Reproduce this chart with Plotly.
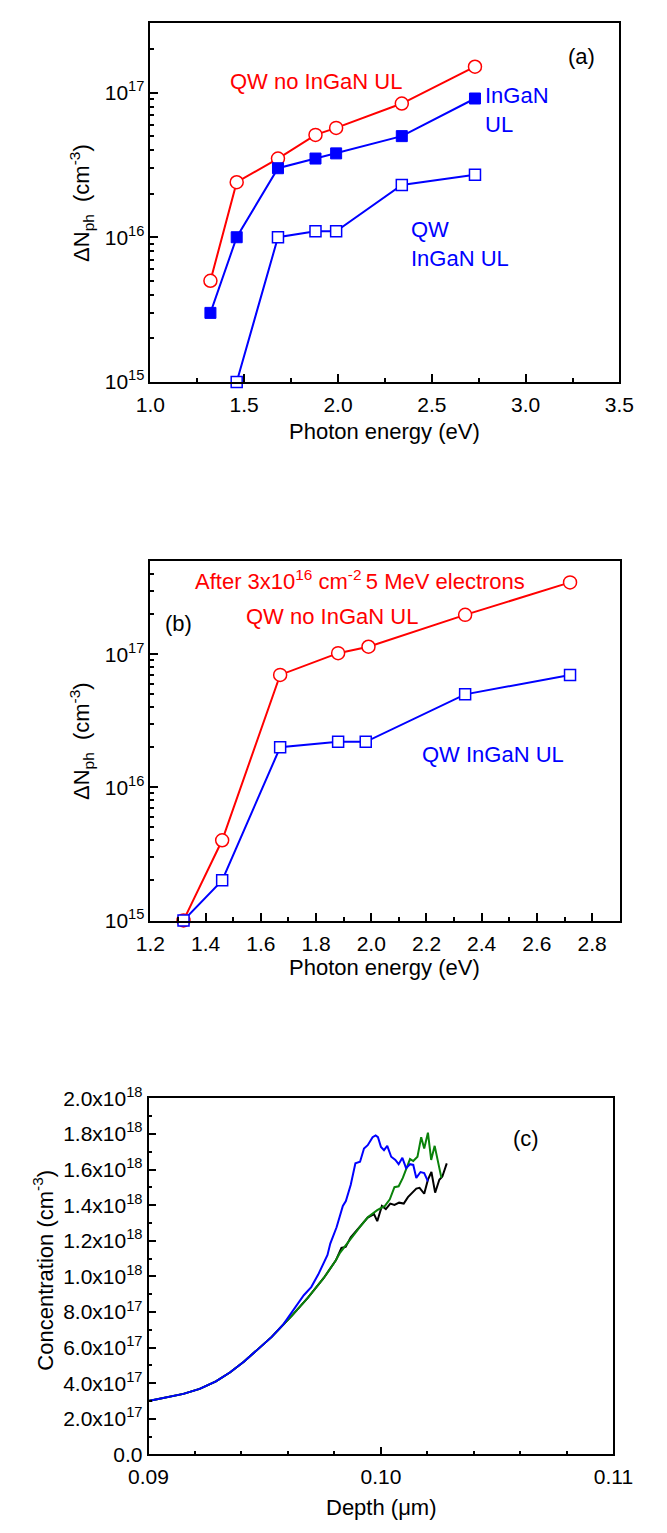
import plotly.graph_objects as go

# ---------------- data: panel (a) ----------------
energy_a = [1.32, 1.46, 1.68, 1.88, 1.99, 2.34, 2.73]
qw_no_ul_a = [5.0e15, 2.4e16, 3.5e16, 5.1e16, 5.7e16, 8.4e16, 1.51e17]
ingan_ul_a = [3.0e15, 1.0e16, 3.0e16, 3.5e16, 3.8e16, 5.0e16, 9.1e16]
energy_a_qw = [1.46, 1.68, 1.88, 1.99, 2.34, 2.73]
qw_ingan_ul_a = [1.0e15, 1.0e16, 1.1e16, 1.1e16, 2.3e16, 2.7e16]

# ---------------- data: panel (b) ----------------
energy_b = [1.32, 1.46, 1.67, 1.88, 1.99, 2.34, 2.72]
qw_no_ul_b = [1.0e15, 4.0e15, 7.0e16, 1.02e17, 1.14e17, 1.98e17, 3.47e17]
energy_b_qw = [1.32, 1.46, 1.67, 1.88, 1.98, 2.34, 2.72]
qw_ingan_ul_b = [1.0e15, 2.0e15, 2.0e16, 2.2e16, 2.2e16, 5.0e16, 7.0e16]

# ---------------- data: panel (c) ----------------
depth_blue = [0.0900, 0.0907, 0.0915, 0.0922, 0.0929, 0.0935, 0.0941, 0.0947, 0.0953,
              0.0958, 0.0963, 0.09668, 0.0970, 0.0973, 0.0977, 0.09782, 0.09809, 0.09836,
              0.09849, 0.0987, 0.0989, 0.0991, 0.09927, 0.09943, 0.09964, 0.09977, 0.09987,
              0.1000, 0.10013, 0.10027, 0.10044, 0.10062, 0.10076, 0.10092, 0.10108,
              0.10125, 0.10139, 0.10152, 0.1017, 0.10186, 0.10202]
conc_blue = [3.00e17, 3.18e17, 3.40e17, 3.68e17, 4.10e17, 4.60e17, 5.20e17, 5.90e17, 6.60e17,
             7.30e17, 8.20e17, 8.94e17, 9.40e17, 1.01e18, 1.12e18, 1.184e18, 1.276e18, 1.396e18,
             1.423e18, 1.515e18, 1.635e18, 1.644e18, 1.718e18, 1.737e18, 1.782e18, 1.792e18, 1.782e18,
             1.727e18, 1.709e18, 1.733e18, 1.672e18, 1.654e18, 1.630e18, 1.666e18, 1.608e18,
             1.630e18, 1.626e18, 1.553e18, 1.586e18, 1.580e18, 1.534e18]

depth_green = [0.0900, 0.0907, 0.0915, 0.0922, 0.0929, 0.0935, 0.0941, 0.0947, 0.0953,
               0.09617, 0.09686, 0.09754, 0.09806, 0.09822, 0.09863, 0.09903, 0.09943, 0.09984,
               0.10017, 0.10038, 0.10058, 0.10076, 0.10094, 0.10112, 0.10125, 0.10139, 0.10157,
               0.10173, 0.10186, 0.10202, 0.10216, 0.10231, 0.10260]
conc_green = [3.00e17, 3.18e17, 3.40e17, 3.68e17, 4.10e17, 4.60e17, 5.20e17, 5.90e17, 6.60e17,
              7.80e17, 8.81e17, 9.91e17, 1.09e18, 1.129e18, 1.202e18, 1.267e18, 1.332e18, 1.372e18,
              1.396e18, 1.433e18, 1.501e18, 1.506e18, 1.553e18, 1.617e18, 1.659e18, 1.648e18, 1.672e18,
              1.782e18, 1.718e18, 1.807e18, 1.654e18, 1.733e18, 1.553e18]

depth_black = [0.0900, 0.0907, 0.0915, 0.0922, 0.0929, 0.0935, 0.0941, 0.0947, 0.0953,
               0.09617, 0.09686, 0.09754, 0.09806, 0.09830, 0.09848, 0.09870, 0.09903, 0.09943,
               0.09970, 0.09984, 0.10004, 0.10021, 0.10040, 0.10058, 0.10078, 0.10098, 0.10116,
               0.10139, 0.10152, 0.10166, 0.10186, 0.10202, 0.10217, 0.10233, 0.10251, 0.10264,
               0.10283]
conc_black = [3.00e17, 3.18e17, 3.40e17, 3.68e17, 4.10e17, 4.60e17, 5.20e17, 5.90e17, 6.60e17,
              7.80e17, 8.81e17, 9.91e17, 1.09e18, 1.16e18, 1.165e18, 1.22e18, 1.27e18, 1.33e18,
              1.35e18, 1.31e18, 1.396e18, 1.378e18, 1.409e18, 1.401e18, 1.414e18, 1.409e18, 1.445e18,
              1.475e18, 1.493e18, 1.497e18, 1.464e18, 1.543e18, 1.586e18, 1.470e18, 1.543e18, 1.561e18,
              1.635e18]

conc_tickvals = [0, 2e17, 4e17, 6e17, 8e17, 1e18, 1.2e18, 1.4e18, 1.6e18, 1.8e18, 2e18]
conc_ticktext = ["0.0", "2.0x10<sup>17</sup>", "4.0x10<sup>17</sup>", "6.0x10<sup>17</sup>",
                 "8.0x10<sup>17</sup>", "1.0x10<sup>18</sup>", "1.2x10<sup>18</sup>",
                 "1.4x10<sup>18</sup>", "1.6x10<sup>18</sup>", "1.8x10<sup>18</sup>",
                 "2.0x10<sup>18</sup>"]
log_tickvals = [1e15, 1e16, 1e17]
log_ticktext = ["10<sup>15</sup>", "10<sup>16</sup>", "10<sup>17</sup>"]
log_minor = [k * 10.0 ** e for e in (15, 16, 17) for k in range(2, 10)]

RED = "#ff0000"
BLUE = "#0000ff"
GREEN = "#0a820a"
FONT = "Liberation Sans, Arial, sans-serif"
W, H = 667, 1533

fig = go.Figure()

# panel (a)
fig.add_trace(go.Scatter(x=energy_a, y=qw_no_ul_a, mode="lines+markers", xaxis="x", yaxis="y",
                         line=dict(color=RED, width=2), cliponaxis=False,
                         marker=dict(symbol="circle", size=13, color="white", line=dict(color=RED, width=1.5))))
fig.add_trace(go.Scatter(x=energy_a, y=ingan_ul_a, mode="lines+markers", xaxis="x", yaxis="y",
                         line=dict(color=BLUE, width=2), cliponaxis=False,
                         marker=dict(symbol="square", size=11, color=BLUE, line=dict(color=BLUE, width=1))))
fig.add_trace(go.Scatter(x=energy_a_qw, y=qw_ingan_ul_a, mode="lines+markers", xaxis="x", yaxis="y",
                         line=dict(color=BLUE, width=2), cliponaxis=False,
                         marker=dict(symbol="square", size=11, color="white", line=dict(color=BLUE, width=1.5))))

# panel (b)
fig.add_trace(go.Scatter(x=energy_b, y=qw_no_ul_b, mode="lines+markers", xaxis="x2", yaxis="y2",
                         line=dict(color=RED, width=2), cliponaxis=False,
                         marker=dict(symbol="circle", size=13, color="white", line=dict(color=RED, width=1.5))))
fig.add_trace(go.Scatter(x=energy_b_qw, y=qw_ingan_ul_b, mode="lines+markers", xaxis="x2", yaxis="y2",
                         line=dict(color=BLUE, width=2), cliponaxis=False,
                         marker=dict(symbol="square", size=11, color="white", line=dict(color=BLUE, width=1.5))))

# panel (c)
fig.add_trace(go.Scatter(x=depth_black, y=conc_black, mode="lines", xaxis="x3", yaxis="y3",
                         line=dict(color="black", width=2)))
fig.add_trace(go.Scatter(x=depth_green, y=conc_green, mode="lines", xaxis="x3", yaxis="y3",
                         line=dict(color=GREEN, width=2)))
fig.add_trace(go.Scatter(x=depth_blue, y=conc_blue, mode="lines", xaxis="x3", yaxis="y3",
                         line=dict(color=BLUE, width=2)))


def ax(**kw):
    d = dict(showline=True, linecolor="black", linewidth=1.5, mirror=True,
             ticks="inside", ticklen=8, tickwidth=1.5, tickcolor="black",
             showgrid=False, zeroline=False,
             tickfont=dict(size=21, color="black", family=FONT))
    d.update(kw)
    return d


minor_style = dict(ticks="inside", ticklen=4, tickwidth=1.5, tickcolor="black", showgrid=False)

fig.update_layout(
    width=W, height=H, autosize=False,
    margin=dict(l=0, r=0, t=0, b=0),
    paper_bgcolor="white", plot_bgcolor="white",
    showlegend=False,
    font=dict(family=FONT, color="black", size=21),
    xaxis=ax(domain=[138.7 / W, 637.7 / W], anchor="y", range=[1.0, 3.5],
             tick0=1.0, dtick=0.5, tickformat=".1f", ticklabelstandoff=3,
             minor=dict(dtick=0.25, **minor_style)),
    yaxis=ax(domain=[1 - 374.3 / H, 1 - 9.3 / H], anchor="x", type="log", range=[14.998, 17.48],
             tickvals=log_tickvals, ticktext=log_ticktext,
             minor=dict(tickvals=log_minor, **minor_style)),
    xaxis2=ax(domain=[138.7 / W, 638 / W], anchor="y2", range=[1.2, 2.9],
              tick0=1.2, dtick=0.2, tickformat=".1f", ticklabelstandoff=3,
              minor=dict(dtick=0.1, **minor_style)),
    yaxis2=ax(domain=[1 - 921.7 / H, 1 - 555.7 / H], anchor="x2", type="log", range=[14.998, 17.704],
              tickvals=log_tickvals, ticktext=log_ticktext,
              minor=dict(tickvals=log_minor, **minor_style)),
    xaxis3=ax(domain=[136.7 / W, 631.3 / W], anchor="y3", range=[0.09, 0.11],
              tick0=0.09, dtick=0.01, tickformat=".2f", ticklabelstandoff=3,
              minor=dict(dtick=0.002, **minor_style)),
    yaxis3=ax(domain=[1 - 1464.3 / H, 1 - 1102.3 / H], anchor="x3", range=[0, 2e18],
              tickvals=conc_tickvals, ticktext=conc_ticktext,
              minor=dict(dtick=1e17, **minor_style)),
)


def note(text, px, py, color="black", size=22, xanchor="center", align="center", angle=0):
    fig.add_annotation(text=text, x=px / W, y=1 - py / H, xref="paper", yref="paper",
                       xanchor=xanchor, yanchor="middle", align=align, showarrow=False,
                       textangle=angle, font=dict(size=size, color=color, family=FONT))


# panel (a) texts
note("QW no InGaN UL", 315, 69, RED)
note("InGaN<br>UL", 493, 98, BLUE, xanchor="left", align="left")
note("QW<br>InGaN UL", 413.5, 233.5, BLUE, xanchor="left", align="left")
note("(a)", 597.7, 43)
note("ΔN<sub>ph</sub>  (cm<sup>-3</sup>)", 66, 192, angle=-90)
note("Photon energy (eV)", 388, 424)

# panel (b) texts
note("After 3x10<sup>16</sup> cm<sup>-2 </sup>5 MeV electrons", 362, 575, RED)
note("QW no InGaN UL", 332, 612, RED)
note("(b)", 168.5, 620)
note("QW InGaN UL", 503, 753, BLUE)
note("ΔN<sub>ph</sub>  (cm<sup>-3</sup>)", 66, 739, angle=-90)
note("Photon energy (eV)", 388, 969)

# panel (c) texts
note("(c)", 538.7, 1143.3)
note("Concentration (cm<sup>-3</sup>)", 25, 1277, angle=-90)
note("Depth (μm)", 384, 1518)

fig.write_html("out.html")
